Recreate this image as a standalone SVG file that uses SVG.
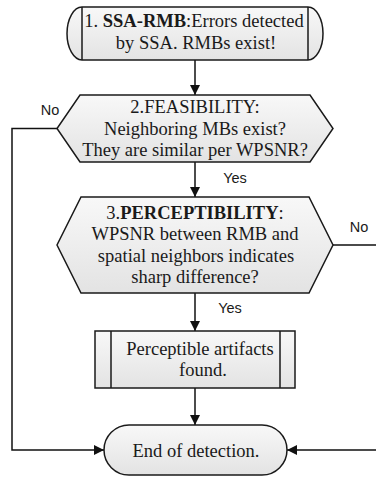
<svg xmlns="http://www.w3.org/2000/svg" width="376" height="477" viewBox="0 0 376 477">
  <defs>
    <linearGradient id="shade" x1="0" y1="0" x2="0" y2="1">
      <stop offset="0" stop-color="#f8f8f8"/>
      <stop offset="1" stop-color="#e3e3e3"/>
    </linearGradient>
    <marker id="arrow" viewBox="0 0 10 10" refX="10" refY="5" markerWidth="10" markerHeight="11" markerUnits="userSpaceOnUse" orient="auto">
      <path d="M0,0 L10,5 L0,10 Z" fill="#111"/>
    </marker>
  </defs>
  <style>
    .shape { fill: url(#shade); stroke: #1a1a1a; stroke-width: 1.5; }
    .line { fill: none; stroke: #1a1a1a; stroke-width: 1.5; }
    .conn { fill: none; stroke: #111; stroke-width: 1.5; marker-end: url(#arrow); }
    .t { font-family: "Liberation Serif", "Times New Roman", serif; font-size: 18.5px; fill: #1a1a1a; text-anchor: middle; }
    .lbl { font-family: "Liberation Sans", Arial, sans-serif; font-size: 14.5px; fill: #1a1a1a; text-anchor: middle; }
    .b { font-weight: bold; }
  </style>
  <rect width="376" height="477" fill="#ffffff"/>

  <g id="connectors">
    <path class="conn" d="M195,60 V95"/>
    <path class="conn" d="M195,162 V197"/>
    <path class="conn" d="M195,293 V331"/>
    <path class="conn" d="M195,388 V425"/>
    <path class="conn" d="M57,128.5 H12 V450 H104"/>
    <path class="conn" d="M333,245 H378 V450 H287"/>
    <text class="lbl" x="50" y="115">No</text>
    <text class="lbl" x="235" y="183">Yes</text>
    <text class="lbl" x="359" y="232">No</text>
    <text class="lbl" x="230" y="313">Yes</text>
  </g>

  <g id="start">
    <path class="shape" d="M82,7 H308 A15,26.5 0 0 1 308,60 H82 A15,26.5 0 0 1 82,7 Z"/>
    <path class="line" d="M82,7 V60 M308,7 V60"/>
    <text class="t" x="194" y="27">1. <tspan class="b">SSA-RMB</tspan>:Errors detected</text>
    <text class="t" x="196" y="49">by SSA. RMBs exist!</text>
  </g>

  <g id="feasibility">
    <polygon class="shape" points="80,95 310,95 333,128.5 310,162 80,162 57,128.5"/>
    <text class="t" x="195" y="113">2.FEASIBILITY:</text>
    <text class="t" x="195" y="134.5">Neighboring MBs exist?</text>
    <text class="t" x="195" y="156">They are similar per WPSNR?</text>
  </g>

  <g id="perceptibility">
    <polygon class="shape" points="81,197 309,197 333,245 309,293 81,293 57,245"/>
    <text class="t" x="195" y="218.5">3.<tspan class="b">PERCEPTIBILITY</tspan>:</text>
    <text class="t" x="195" y="240">WPSNR between RMB and</text>
    <text class="t" x="196" y="261.5">spatial neighbors indicates</text>
    <text class="t" x="195" y="283">sharp difference?</text>
  </g>

  <g id="artifacts">
    <rect class="shape" x="95" y="331" width="200" height="57"/>
    <path class="line" d="M111,331 V388 M280,331 V388"/>
    <text class="t" x="200" y="354.5">Perceptible artifacts</text>
    <text class="t" x="203" y="376">found.</text>
  </g>

  <g id="end">
    <rect class="shape" x="104" y="425" width="183" height="50" rx="25" ry="25"/>
    <text class="t" x="196" y="456.5">End of detection.</text>
  </g>
</svg>
